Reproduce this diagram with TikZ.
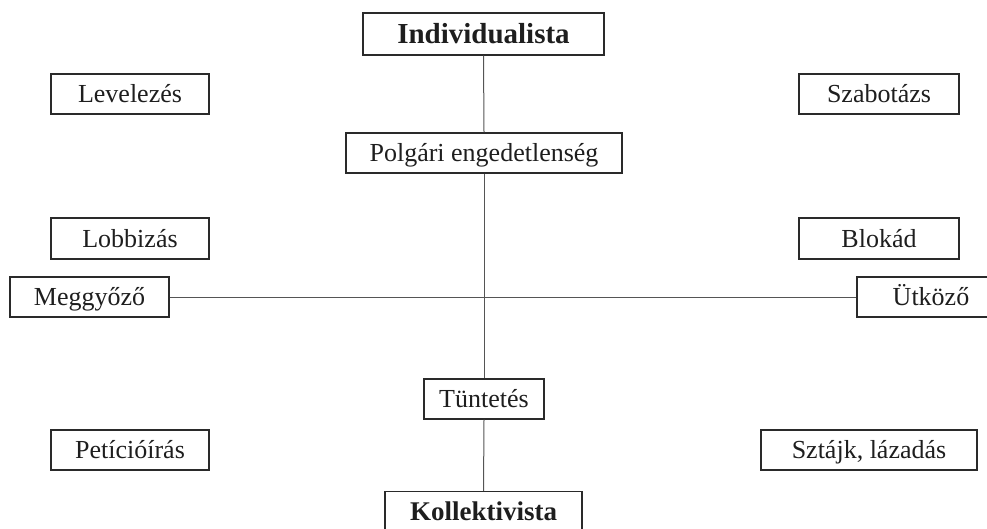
\documentclass[tikz,border=0pt]{standalone}
\usepackage{fontspec}
\setmainfont{Liberation Serif}
\definecolor{boxline}{HTML}{2A2A2A}
\definecolor{connline}{HTML}{555555}
\definecolor{txt}{HTML}{1E1E1E}
\begin{document}
\begin{tikzpicture}[x=1pt,y=-1pt,
  box/.style={draw=boxline, line width=1.3pt, inner sep=0pt, text=txt,
    font=\fontsize{26}{30}\selectfont, minimum height=40pt,
    text height=17pt, text depth=0pt},
  conn/.style={draw=connline, line width=1pt}]
\useasboundingbox (0,0) rectangle (987,528);
\node[box, minimum width=241pt, minimum height=42pt, text height=19pt, font=\fontsize{29}{33}\selectfont\bfseries] (ind) at (483.5,34) {Individualista};
\node[box, minimum width=158pt] (lev) at (130,94) {Levelezés};
\node[box, minimum width=160pt] (sza) at (879,94) {Szabotázs};
\node[box, minimum width=276pt] (pol) at (484,153) {Polgári engedetlenség};
\node[box, minimum width=158pt, minimum height=41pt] (lob) at (130,238.5) {Lobbizás};
\node[box, minimum width=160pt, minimum height=41pt] (blo) at (879,238.5) {Blokád};
\node[box, minimum width=159pt] (meg) at (89.5,297) {Meggyőző};
\node[box, minimum width=148pt] (utk) at (931,297) {Ütköző};
\node[box, minimum width=120pt] (tun) at (484,399) {Tüntetés};
\node[box, minimum width=158pt] (pet) at (130,450) {Petícióírás};
\node[box, minimum width=216pt] (szt) at (869,450) {Sztájk, lázadás};
\node[box, minimum width=197pt, text height=18pt, font=\fontsize{27}{31}\selectfont\bfseries] (kol) at (483.5,511.5) {Kollektivista};
\draw[conn] (meg.east) -- (utk.west);
\draw[conn] (ind.south) -- (pol.north);
\draw[conn] (pol.south) -- (tun.north);
\draw[conn] (tun.south) -- (kol.north);
\end{tikzpicture}
\end{document}
